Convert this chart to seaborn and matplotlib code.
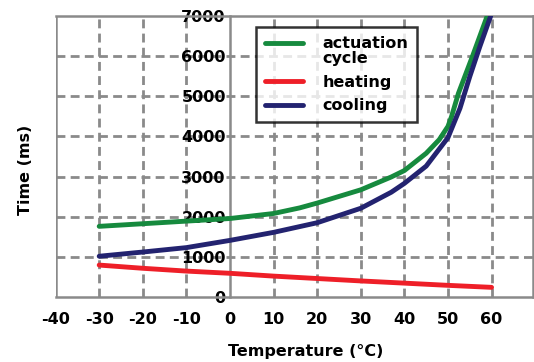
import matplotlib
matplotlib.use("Agg")
import matplotlib.pyplot as plt
from matplotlib.lines import Line2D
from matplotlib.legend_handler import HandlerLine2D
import numpy as np
import seaborn as sns
import pandas as pd

# Data
temp_act = [-30, -20, -10, 0, 10, 16, 20, 30, 37, 40, 45, 48, 50, 50.8, 52.4, 55.6, 59.0]
act_cycle = [1760, 1825, 1890, 1955, 2080, 2220, 2340, 2670, 2990, 3150, 3580, 3920, 4250,
             4490, 5075, 5990, 7000]

temp_heat = [-30, -20, -10, 0, 10, 20, 30, 40, 50, 60]
heating = [795, 715, 645, 590, 520, 460, 400, 345, 290, 240]

temp_cool = [-30, -20, -10, 0, 10, 20, 30, 37, 40, 45, 50, 52.75, 55, 57.3, 59.8]
cooling = [1015, 1120, 1230, 1410, 1610, 1850, 2210, 2610, 2830, 3260, 3970, 4700,
           5490, 6236, 7000]

xticks = [-40, -30, -20, -10, 0, 10, 20, 30, 40, 50, 60]
yticks = [0, 1000, 2000, 3000, 4000, 5000, 6000, 7000]

sns.set_style("white")
plt.rcParams['font.family'] = ['DejaVu Sans']
plt.rcParams['text.color'] = 'black'
plt.rcParams['xtick.color'] = 'black'
plt.rcParams['ytick.color'] = 'black'

FS = 11.5
GRAY = "#8a8a8a"

fig = plt.figure(figsize=(5.34, 3.62), dpi=100)
ax = fig.add_axes([0.1041, 0.1796, 0.894, 0.7762])

for s in ax.spines.values():
    s.set_color(GRAY)
    s.set_linewidth(1.8)
ax.spines['left'].set_position(('data', 0))

grid_kw = dict(color=GRAY, lw=2.0, ls=(0, (3.2, 1.9)), zorder=0)
for x in xticks[1:]:
    if x != 0:
        ax.axvline(x, **grid_kw)
for y in yticks[1:-1]:
    ax.axhline(y, **grid_kw)
ax.axvline(-40, color=GRAY, lw=1.8, zorder=1)

df_a = pd.DataFrame({"t": temp_act, "v": act_cycle})
df_h = pd.DataFrame({"t": temp_heat, "v": heating})
df_c = pd.DataFrame({"t": temp_cool, "v": cooling})

c_green, c_red, c_blue = "#168a3e", "#ee1f28", "#232370"
sns.lineplot(data=df_a, x="t", y="v", ax=ax, color=c_green, lw=3.5, zorder=3)
sns.lineplot(data=df_h, x="t", y="v", ax=ax, color=c_red, lw=3.5, zorder=3)
sns.lineplot(data=df_c, x="t", y="v", ax=ax, color=c_blue, lw=3.5, zorder=3)

ax.set_xlim(-40, 69.5)
ax.set_ylim(0, 7000)
ax.set_xticks(xticks)
ax.set_yticks(yticks)
ax.set_xticklabels([str(v) for v in xticks], fontweight="bold", fontsize=FS)
ax.set_yticklabels([str(v) for v in yticks], fontweight="bold", fontsize=FS)
ax.tick_params(axis="both", length=0)
ax.tick_params(axis="x", pad=11)
ax.tick_params(axis="y", pad=3)
ax.set_xlabel("")
ax.set_ylabel("")

fig.text(0.573, 0.030, "Temperature (°C)", fontweight="bold", fontsize=FS,
         ha="center", va="center")
fig.text(0.047, 0.530, "Time (ms)", rotation=90, fontweight="bold",
         fontsize=FS, ha="center", va="center")


class ShiftedLine(HandlerLine2D):
    def __init__(self, shift, **kw):
        super().__init__(**kw)
        self.shift = shift

    def create_artists(self, legend, orig_handle, xdescent, ydescent, width,
                       height, fontsize, trans):
        arts = super().create_artists(legend, orig_handle, xdescent, ydescent,
                                      width, height, fontsize, trans)
        for a in arts:
            a.set_ydata(np.asarray(a.get_ydata()) + self.shift)
        return arts


h_green = Line2D([], [], color=c_green, lw=3.5)
h_red = Line2D([], [], color=c_red, lw=3.5)
h_blue = Line2D([], [], color=c_blue, lw=3.5)
leg = ax.legend([h_green, h_red, h_blue], ["actuation\ncycle", "heating", "cooling"],
                loc="upper left", bbox_to_anchor=(0.42, 0.961),
                borderaxespad=0, frameon=True, fancybox=False, edgecolor="black",
                prop={"weight": "bold", "size": FS}, handlelength=2.4,
                borderpad=0.55, labelspacing=0.55, handletextpad=1.2,
                handler_map={h_green: ShiftedLine(5.8)})
leg.get_texts()[0].set_linespacing(1.0)
leg.get_frame().set_linewidth(1.8)
leg.set_zorder(5)

fig.savefig("out.png", dpi=100)
